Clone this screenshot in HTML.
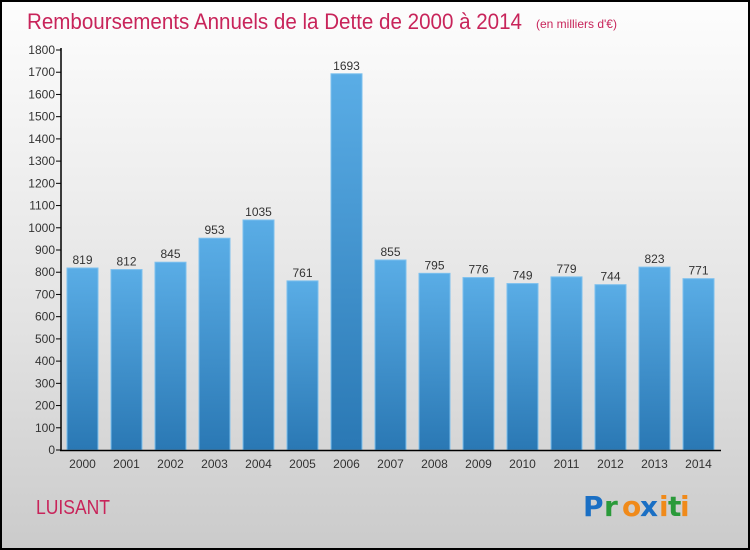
<!DOCTYPE html>
<html><head><meta charset="utf-8"><style>
body{margin:0;}
#wrap{position:relative;width:750px;height:550px;box-sizing:border-box;border:2px solid #000;background:linear-gradient(#fdfdfd,#e2e2e2 60%,#cbcbcb);font-family:"Liberation Sans",sans-serif;overflow:hidden}
</style></head><body>
<div id="wrap">
<svg id="svg" width="746" height="546" viewBox="2 2 746 546" style="position:absolute;left:0;top:0">
<defs><linearGradient id="bg" x1="0" y1="0" x2="0" y2="1"><stop offset="0" stop-color="#5aade6"/><stop offset="1" stop-color="#2a78b4"/></linearGradient></defs>
<text x="27" y="29" font-size="22" fill="#c8245a" textLength="495" lengthAdjust="spacingAndGlyphs">Remboursements Annuels de la Dette de 2000 à 2014</text>
<text x="536" y="28" font-size="12" fill="#c8245a">(en milliers d'€)</text>
<text x="36" y="514" font-size="20" fill="#c8245a" textLength="74" lengthAdjust="spacingAndGlyphs">LUISANT</text>
<g font-size="28" font-weight="bold" font-family="'DejaVu Sans',sans-serif">
<text x="583" y="516" fill="#1a6fc4">P</text><text x="604" y="516" fill="#2a9a3a">r</text><text x="622" y="516" fill="#f08a1a">o</text><text x="640" y="516" fill="#1a6fc4">x</text><text x="659" y="516" fill="#f08a1a">i</text><text x="668" y="516" fill="#2a9a3a">t</text><text x="680" y="516" fill="#f08a1a">i</text></g>
<g id="plot"></g>
</svg>
</div>
<script>
const years=["2000","2001","2002","2003","2004","2005","2006","2007","2008","2009","2010","2011","2012","2013","2014"];
const values=[819,812,845,953,1035,761,1693,855,795,776,749,779,744,823,771];
const yTicks=[0,100,200,300,400,500,600,700,800,900,1000,1100,1200,1300,1400,1500,1600,1700,1800];
const NS="http://www.w3.org/2000/svg";
const g=document.getElementById('plot');
const y0=450,yTop=50,yMax=1800;
const ys=v=>y0-(v/yMax)*(y0-yTop);
const xs=i=>67+i*44;
const bw=31;
function el(t,a,txt){const e=document.createElementNS(NS,t);for(const k in a)e.setAttribute(k,a[k]);if(txt!==undefined)e.textContent=txt;g.appendChild(e);return e;}
yTicks.forEach(t=>{
  const l=el('line',{x1:56,x2:61,y1:ys(t),y2:ys(t),stroke:'#000'});
  
  
  const tx=el('text',{x:55,y:ys(t)+4,'font-size':12,fill:'#333','text-anchor':'end'},t);
  
  
});
values.forEach((v,i)=>{
  const r=el('rect',{x:xs(i),y:ys(v),width:bw,height:y0-ys(v),fill:'url(#bg)',stroke:'#7cc0ee','stroke-width':1});
  
  
  const vl=el('text',{x:xs(i)+bw/2,y:ys(v)-4,'font-size':12,fill:'#333','text-anchor':'middle'},v);
  
  
  const xl=el('text',{x:xs(i)+bw/2,y:468,'font-size':12,fill:'#333','text-anchor':'middle'},years[i]);
  
  
});
const ya=el('line',{x1:61,x2:61,y1:48,y2:451,stroke:'#000','stroke-width':1.5});


const xa=el('line',{x1:60,x2:721,y1:450.5,y2:450.5,stroke:'#000','stroke-width':1.5});


</script>
</body></html>
